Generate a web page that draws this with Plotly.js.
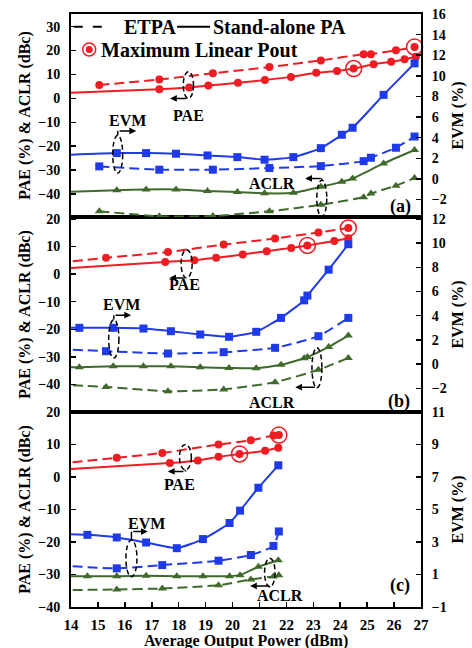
<!DOCTYPE html>
<html><head><meta charset="utf-8">
<script src="https://cdn.plot.ly/plotly-3.0.1.min.js"></script>
<style>html,body{margin:0;padding:0;background:#fff}#chart{width:472px;height:648px}</style>
</head><body><div id="chart"></div>
<script>
// ---------- Panel (a) ----------
const aEtpaX    = [15.05, 17.28, 19.27, 21.37, 23.28, 24.87, 25.14, 26.07, 26.76];
const aEtpaPAE  = [5.6, 7.9, 10.5, 13.1, 15.9, 18.5, 18.5, 20.1, 21.5];
const aEtpaEVM  = [1.21, 0.89, 0.89, 1.05, 1.24, 1.72, 2.05, 3.02, 4.11];
const aEtpaACLR = [-47.2, -49.3, -49.2, -47.2, -44.5, -41.3, -39.8, -36.5, -33.3];
const aSaPaeX   = [13.5, 17.28, 18.39, 19.1, 20.2, 21.2, 22.17, 23.11, 23.88, 24.5, 25.24, 25.89, 26.39, 26.81];
const aSaPAE    = [2.1, 3.8, 4.6, 5.4, 6.5, 7.7, 9.0, 10.7, 11.5, 12.5, 14.3, 15.3, 16.4, 17.4];
const aSaX      = [13.5, 15.7, 16.79, 17.9, 19.07, 20.18, 21.19, 22.26, 23.28, 24.06, 24.46, 25.61, 26.76];
const aSaEVM    = [2.3, 2.5, 2.5, 2.44, 2.27, 2.11, 1.86, 2.11, 2.98, 4.28, 4.96, 8.15, 11.21];
const aSaACLR   = [-39.3, -38.4, -38.1, -38.1, -38.7, -39.1, -39.7, -39.5, -37.0, -34.9, -33.5, -27.2, -21.6];
const aMaxX     = [26.76, 24.5];
const aMaxPAE   = [21.5, 12.5];
// ---------- Panel (b) ----------
const bEtpaX    = [13.5, 15.3, 17.6, 19.67, 21.58, 23.19, 24.3];
const bEtpaPAE  = [4.1, 5.9, 8.0, 10.7, 12.9, 15.1, 16.7];
const bEtpaEVM  = [1.26, 1.07, 0.88, 0.99, 1.35, 2.31, 3.82];
const bEtpaACLR = [-40.1, -40.9, -42.5, -41.8, -39.2, -34.7, -30.4];
const bSaPaeX   = [13.5, 17.5, 18.58, 19.39, 20.38, 21.27, 22.18, 22.78, 23.78, 24.3];
const bSaPAE    = [1.9, 4.4, 5.0, 5.9, 7.1, 8.3, 9.5, 10.4, 12.0, 13.0];
const bSaX      = [13.5, 14.31, 15.57, 16.69, 17.71, 18.8, 19.87, 20.88, 21.8, 22.66, 22.78, 23.57, 24.3];
const bSaEVM    = [3.0, 3.0, 3.0, 2.94, 2.72, 2.45, 2.26, 2.67, 3.82, 5.27, 5.66, 7.8, 9.9];
const bSaACLR   = [-33.8, -33.8, -33.4, -33.4, -33.4, -33.8, -34.0, -34.1, -32.9, -30.5, -30.1, -26.4, -22.3];
const bMaxX     = [24.3, 22.78];
const bMaxPAE   = [16.7, 10.4];
// ---------- Panel (c) ----------
const cEtpaX    = [13.5, 15.7, 17.39, 19.48, 20.68, 21.52, 21.72];
const cEtpaPAE  = [4.1, 5.9, 7.4, 10.0, 11.3, 12.8, 12.9];
const cEtpaEVM  = [1.56, 1.38, 1.58, 1.85, 2.2, 2.76, 3.65];
const cEtpaACLR = [-34.85, -34.6, -34.3, -33.3, -31.5, -30.6, -30.2];
const cSaPaeX   = [13.5, 17.67, 18.71, 19.48, 20.26, 21.21, 21.7];
const cSaPAE    = [2.25, 4.3, 5.1, 6.2, 7.1, 8.1, 9.0];
const cSaX      = [13.5, 14.61, 15.7, 16.79, 17.93, 18.9, 19.89, 20.28, 20.96, 21.7];
const cSaEVM    = [3.5, 3.44, 3.28, 2.97, 2.62, 3.18, 4.17, 4.93, 6.34, 7.72];
const cSaACLR   = [-30.5, -30.5, -30.5, -30.4, -30.5, -30.5, -30.5, -30.2, -27.6, -25.6];
const cMaxX     = [21.72, 20.26];
const cMaxPAE   = [12.9, 7.1];
// ---------- Ticks / labels ----------
const xTicks      = [14, 15, 16, 17, 18, 19, 20, 21, 22, 23, 24, 25, 26, 27];
const aLeftTicks  = [-40, -30, -20, -10, 0, 10, 20, 30];
const aRightTicks = [-2, 0, 2, 4, 6, 8, 10, 12, 14, 16];
const bLeftTicks  = [-40, -30, -20, -10, 0, 10, 20];
const bRightTicks = [-2, 0, 2, 4, 6, 8, 10, 12];
const cLeftTicks  = [-40, -30, -20, -10, 0, 10, 20];
const cRightTicks = [-1, 1, 3, 5, 7, 9, 11];
const legendLabels = ['ETPA', 'Stand-alone PA', 'Maximum Linear Pout'];
const leftTitle = 'PAE (%) &amp; ACLR (dBc)';
const rightTitle = 'EVM (%)';
const xTitle = 'Average Output Power (dBm)';

const RED = '#ee1d23', BLUE = '#1f3ae8', GREEN = '#3f6a2c';
const FONT = 'Liberation Serif, Times New Roman, serif';

function ser(x, y, xa, ya, color, dashed, symbol) {
  return {type:'scatter', mode:'lines+markers', x:x, y:y, xaxis:xa, yaxis:ya,
    line:{color:color, width:2, dash: dashed ? '10px,5px' : 'solid', shape:'spline', smoothing:0.5},
    marker:{symbol:symbol, size:8, color:color},
    cliponaxis:true, showlegend:false, hoverinfo:'skip'};
}
function ring(x, y, xa, ya) {
  return {type:'scatter', mode:'markers', x:x, y:y, xaxis:xa, yaxis:ya,
    marker:{symbol:'circle-open', size:16, color:RED, line:{width:1.5, color:RED}},
    cliponaxis:false, showlegend:false, hoverinfo:'skip'};
}
function panel(xa, yl, yr, eX, ePAE, eEVM, eACLR, sPX, sPAE, sX, sEVM, sACLR, mX, mPAE) {
  return [
    ser(sX, sACLR, xa, yl, GREEN, false, 'triangle-up'),
    ser(eX, eACLR, xa, yl, GREEN, true, 'triangle-up'),
    ser(sX, sEVM, xa, yr, BLUE, false, 'square'),
    ser(eX, eEVM, xa, yr, BLUE, true, 'square'),
    ser(sPX, sPAE, xa, yl, RED, false, 'circle'),
    ser(eX, ePAE, xa, yl, RED, true, 'circle'),
    ring(mX, mPAE, xa, yl)
  ];
}
const data = [].concat(
  panel('x3','y5','y6', aEtpaX, aEtpaPAE, aEtpaEVM, aEtpaACLR, aSaPaeX, aSaPAE, aSaX, aSaEVM, aSaACLR, aMaxX, aMaxPAE),
  panel('x2','y3','y4', bEtpaX, bEtpaPAE, bEtpaEVM, bEtpaACLR, bSaPaeX, bSaPAE, bSaX, bSaEVM, bSaACLR, bMaxX, bMaxPAE),
  panel('x','y','y2', cEtpaX, cEtpaPAE, cEtpaEVM, cEtpaACLR, cSaPaeX, cSaPAE, cSaX, cSaEVM, cSaACLR, cMaxX, cMaxPAE)
);

const tickFont = {family:FONT, size:14, color:'#000', weight:'bold'};
const titleFont = {family:FONT, size:16, color:'#000', weight:'bold'};
function xax(anchor, showLabels) {
  return {anchor:anchor, domain:[0,1], range:[14,27], showgrid:false, zeroline:false,
    showline:true, linewidth:2, linecolor:'#000', mirror:true,
    ticks: showLabels ? 'inside' : '', ticklen:5, tickwidth:1.5, tickcolor:'#000',
    tickvals:xTicks, showticklabels:showLabels, tickfont:{family:FONT, size:15, color:'#000', weight:'bold'},
    ticklabelstandoff:3, title:{text:''}};
}
function yl(domain, range, ticks) {
  return {domain:domain, range:range, tickvals:ticks, showgrid:false, zeroline:false,
    showline:true, linewidth:2, linecolor:'#000', ticks:'inside', ticklen:5, tickwidth:1.5, tickcolor:'#000',
    tickfont:tickFont, ticklabelstandoff:6, title:{text:leftTitle, font:titleFont, standoff:4}};
}
function yr(over, range, ticks) {
  return {overlaying:over, side:'right', range:range, tickvals:ticks, showgrid:false, zeroline:false,
    showline:true, linewidth:2, linecolor:'#000', ticks:'inside', ticklen:5, tickwidth:1.5, tickcolor:'#000',
    tickfont:tickFont, ticklabelstandoff:6, title:{text:rightTitle, font:titleFont, standoff:6}};
}

// panel decorations
const panels = [
  {xr:'x3', yr:'y5', label:'(a)', labelPos:[26.23,-45.4],
   ell:[[18.17,18.55,0,11.1],[15.55,15.92,-31.3,-15.4],[23.13,23.5,-49.5,-34.2]],
   arr:[[17.68,0,18],[16.42,-13.6,-18],[22.7,-33.5,17]],
   txt:[['PAE',18.35,-7.0],['EVM',16.1,-9.1],['ACLR',21.47,-35.6]]},
  {xr:'x2', yr:'y3', label:'(b)', labelPos:[26.2,-46.1],
   ell:[[18.09,18.5,-1.4,8.8],[15.4,15.78,-30.4,-16.5],[22.95,23.32,-41.2,-26.7]],
   arr:[[17.65,-1.4,17],[16.23,-14.9,-17],[22.33,-41.0,21]],
   txt:[['PAE',18.21,-3.8],['EVM',15.86,-11.1],['ACLR',21.47,-46.4]]},
  {xr:'x', yr:'y', label:'(c)', labelPos:[26.23,-33.3],
   ell:[[18.03,18.47,2.2,10.0],[16.04,16.45,-30.7,-19.4],[21.19,21.58,-33.8,-25.0]],
   arr:[[17.6,1.7,17],[16.85,-16.8,-16],[20.65,-33.5,20]],
   txt:[['PAE',18.03,-2.4],['EVM',16.79,-14.2],['ACLR',21.77,-36.6]]}
];
const shapes = [], annotations = [];
const annFont = {family:FONT, size:16, color:'#000', weight:'bold'};
panels.forEach(p => {
  p.ell.forEach((e, i) => {
    shapes.push({type:'circle', xref:p.xr, yref:p.yr, x0:e[0], x1:e[1], y0:e[2], y1:e[3],
      line:{color:'#000', width:1.5, dash:'5px,3px'}});
    const a = p.arr[i];
    const cx = (e[0]+e[1])/2;
    const edge = Math.abs(a[1]-e[2]) < Math.abs(a[1]-e[3]) ? e[2] : e[3];
    shapes.push({type:'line', xref:p.xr, yref:p.yr, x0:cx, x1:cx, y0:edge, y1:a[1], line:{color:'#000', width:1.5}});
    annotations.push({xref:p.xr, yref:p.yr, x:a[0], y:a[1], ax:a[2], ay:0, text:'', showarrow:true,
      arrowhead:2, arrowsize:0.9, arrowwidth:1.5, arrowcolor:'#000', standoff:0});
  });
  p.txt.forEach(t => annotations.push({xref:p.xr, yref:p.yr, x:t[1], y:t[2], text:t[0], showarrow:false, font:annFont}));
  annotations.push({xref:p.xr, yref:p.yr, x:p.labelPos[0], y:p.labelPos[1], text:p.label, showarrow:false,
    font:{family:FONT, size:18, color:'#000', weight:'bold'}});
});
// x-axis title (placed below tick labels)
annotations.push({xref:'paper', yref:'paper', x:0.5, y:0, xanchor:'center', yanchor:'top', yshift:-23,
  text:xTitle, showarrow:false, font:titleFont});
// legend (drawn in paper coordinates)
const legFont = {family:FONT, size:20, color:'#000', weight:'bold'};
const r1 = 0.9786, r2 = 0.9401;
shapes.push({type:'line', xref:'paper', yref:'paper', x0:0.008, x1:0.09, y0:r1, y1:r1, line:{color:'#000', width:2, dash:'9px,10px'}});
shapes.push({type:'line', xref:'paper', yref:'paper', x0:0.303, x1:0.397, y0:r1, y1:r1, line:{color:'#000', width:2}});
shapes.push({type:'circle', xref:'paper', yref:'paper', xsizemode:'pixel', ysizemode:'pixel', xanchor:0.052, yanchor:r2,
  x0:-6.5, x1:6.5, y0:-6.5, y1:6.5, line:{color:RED, width:1.5}});
shapes.push({type:'circle', xref:'paper', yref:'paper', xsizemode:'pixel', ysizemode:'pixel', xanchor:0.052, yanchor:r2,
  x0:-3.5, x1:3.5, y0:-3.5, y1:3.5, line:{color:RED, width:0}, fillcolor:RED});
annotations.push({xref:'paper', yref:'paper', x:0.146, y:r1, xanchor:'left', yanchor:'middle', text:legendLabels[0], showarrow:false, font:legFont});
annotations.push({xref:'paper', yref:'paper', x:0.400, y:r1, xanchor:'left', yanchor:'middle', text:legendLabels[1], showarrow:false, font:legFont});
annotations.push({xref:'paper', yref:'paper', x:0.080, y:r2, xanchor:'left', yanchor:'middle', text:legendLabels[2], showarrow:false, font:legFont});

const layout = {
  width:472, height:648, margin:{l:71, r:51, t:14, b:41}, paper_bgcolor:'#fff', plot_bgcolor:'#fff',
  showlegend:false,
  xaxis: xax('y', true), xaxis2: xax('y3', false), xaxis3: xax('y5', false),
  yaxis: yl([0, 0.3288], [-40, 20], cLeftTicks),
  yaxis2: yr('y', [-1, 11], cRightTicks),
  yaxis3: yl([0.3288, 0.6577], [-50, 20.7], bLeftTicks),
  yaxis4: yr('y3', [-3.95, 12.15], bRightTicks),
  yaxis5: yl([0.6577, 1], [-49.6, 35.3], aLeftTicks),
  yaxis6: yr('y5', [-3.7, 16.0], aRightTicks),
  shapes: shapes, annotations: annotations
};
Plotly.newPlot('chart', data, layout, {staticPlot:true, displayModeBar:false});
</script></body></html>
